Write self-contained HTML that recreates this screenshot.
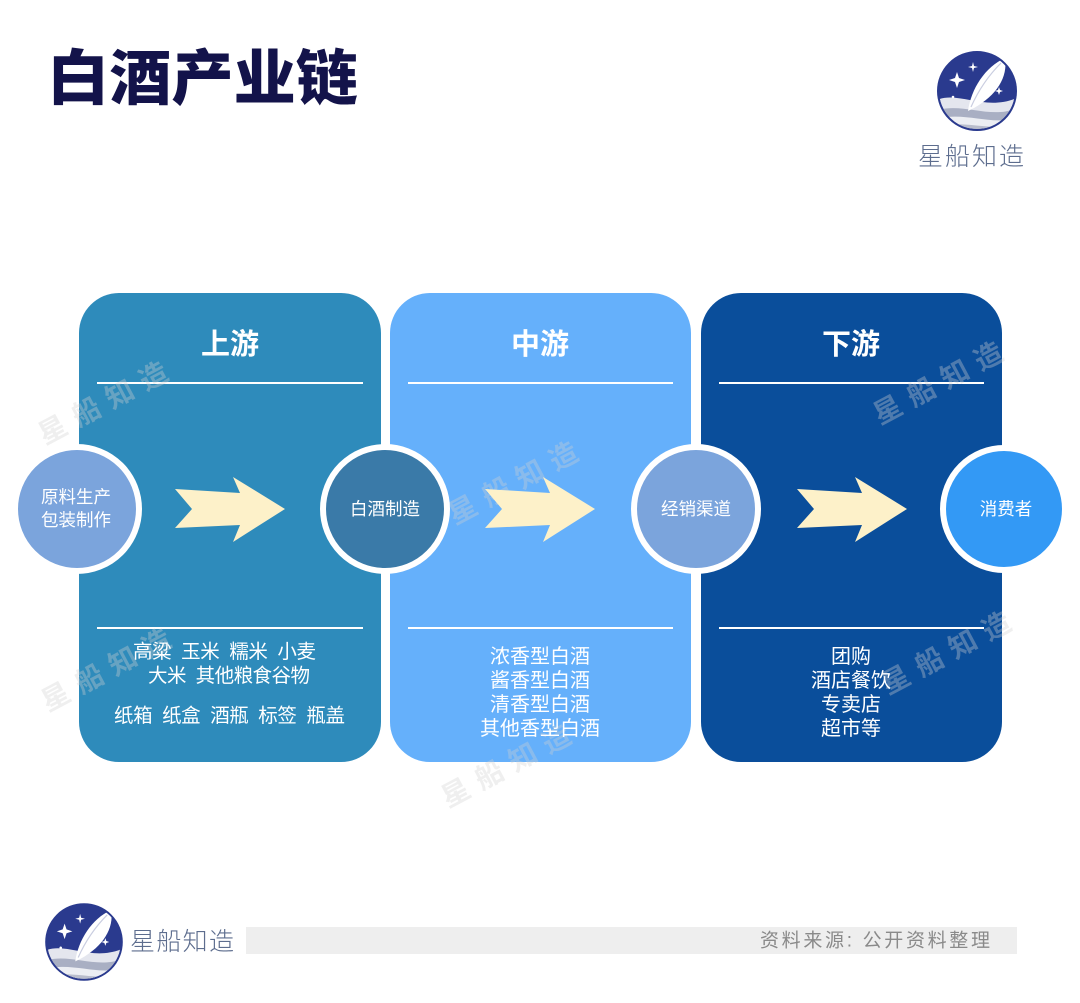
<!DOCTYPE html>
<html>
<head>
<meta charset="utf-8">
<style>
html,body{margin:0;padding:0;background:#fff;}
body{width:1080px;height:1003px;overflow:hidden;}
svg{display:block;}
text{font-family:"Liberation Sans","Noto Sans CJK SC",sans-serif;}
</style>
</head>
<body>
<svg width="1080" height="1003" viewBox="0 0 1080 1003" xmlns="http://www.w3.org/2000/svg">
  <defs>
    <clipPath id="lc"><circle cx="0" cy="0" r="38"/></clipPath>
    <g id="logo">
      <circle cx="0" cy="0" r="39" fill="#2a3a8e"/>
      <g clip-path="url(#lc)">
        <path d="M-42 10 C -20 -2, 8 22, 42 6 L42 42 L-42 42 Z" fill="#e4e6ee"/>
        <path d="M-42 20 C -15 10, 15 30, 42 16 L42 42 L-42 42Z" fill="#a9afc3"/>
        <path d="M-42 28 C -10 20, 15 36, 42 26 L42 42 L-42 42Z" fill="#eceef3"/>
        <path d="M-42 34 C -10 30, 15 40, 42 34 L42 42 L-42 42Z" fill="#b9bdcc"/>
      </g>
      <path d="M-9 20 C -6 -2, 8 -24, 28 -33 C 31 -14, 20 4, -3 17 Z" fill="#ffffff"/>
      <path d="M-6 16 C 2 -2, 12 -16, 24 -28" stroke="#c9cde0" stroke-width="1.2" fill="none"/>
      <path d="M-20 -19 L-18 -13 L-12 -11 L-18 -9 L-20 -3 L-22 -9 L-28 -11 L-22 -13 Z" fill="#fff"/>
      <path d="M-4 -29 L-3 -25 L1 -24 L-3 -23 L-4 -19 L-5 -23 L-9 -24 L-5 -25 Z" fill="#fff"/>
      <path d="M22 -4 L23 -1 L26 0 L23 1 L22 4 L21 1 L18 0 L21 -1 Z" fill="#fff"/>
      <circle cx="-24" cy="6" r="1.3" fill="#fff"/>
      <circle cx="0" cy="0" r="39" fill="none" stroke="#2a3a8e" stroke-width="2"/>
    </g>
  </defs>

  <!-- Title -->
  <text x="47" y="79" dominant-baseline="central" font-size="60" font-weight="900" fill="#13134a" textLength="311" lengthAdjust="spacingAndGlyphs">白酒产业链</text>

  <!-- top-right logo -->
  <use href="#logo" transform="translate(977,91)"/>
  <text x="918" y="157" dominant-baseline="central" font-size="25" font-weight="300" fill="#5d6d8e" textLength="106" lengthAdjust="spacing">星船知造</text>

  <!-- Panels -->
  <rect x="79" y="293" width="302" height="469" rx="40" ry="40" fill="#2e8bbb"/>
  <rect x="390" y="293" width="301" height="469" rx="40" ry="40" fill="#65b0fb"/>
  <rect x="701" y="293" width="301" height="469" rx="40" ry="40" fill="#0a4e9b"/>

  <!-- headers -->
  <text x="230" y="345" text-anchor="middle" dominant-baseline="central" font-size="29" font-weight="bold" fill="#fff">上游</text>
  <text x="540" y="345" text-anchor="middle" dominant-baseline="central" font-size="29" font-weight="bold" fill="#fff">中游</text>
  <text x="851" y="345" text-anchor="middle" dominant-baseline="central" font-size="29" font-weight="bold" fill="#fff">下游</text>

  <!-- divider lines -->
  <g stroke="#ffffff" stroke-width="2">
    <line x1="97" y1="383" x2="363" y2="383"/>
    <line x1="408" y1="383" x2="673" y2="383"/>
    <line x1="719" y1="383" x2="984" y2="383"/>
    <line x1="97" y1="628" x2="363" y2="628"/>
    <line x1="408" y1="628" x2="673" y2="628"/>
    <line x1="719" y1="628" x2="984" y2="628"/>
  </g>

  <!-- watermarks -->
  <g font-size="28" font-weight="bold" letter-spacing="10" fill="#d0d0d0" fill-opacity="0.35">
    <text x="45" y="445" transform="rotate(-28 45 445)">星船知造</text>
    <text x="48" y="712" transform="rotate(-28 48 712)">星船知造</text>
    <text x="455" y="525" transform="rotate(-28 455 525)">星船知造</text>
    <text x="448" y="808" transform="rotate(-28 448 808)">星船知造</text>
    <text x="880" y="425" transform="rotate(-28 880 425)">星船知造</text>
    <text x="888" y="695" transform="rotate(-28 888 695)">星船知造</text>
  </g>

  <!-- arrows -->
  <g fill="#fdf1c9">
    <path d="M175 489 L240 493 L233 477 L285 509 L233 542 L240 525 L175 528 L192 509 Z"/>
    <path transform="translate(310,0)" d="M175 489 L240 493 L233 477 L285 509 L233 542 L240 525 L175 528 L192 509 Z"/>
    <path transform="translate(622,0)" d="M175 489 L240 493 L233 477 L285 509 L233 542 L240 525 L175 528 L192 509 Z"/>
  </g>

  <!-- circles -->
  <circle cx="77" cy="509" r="62" fill="#7ba4dc" stroke="#ffffff" stroke-width="6"/>
  <circle cx="385" cy="509" r="62" fill="#3a7aa8" stroke="#ffffff" stroke-width="6"/>
  <circle cx="696" cy="509" r="62" fill="#7ba4dc" stroke="#ffffff" stroke-width="6"/>
  <circle cx="1004" cy="509" r="61" fill="#3399f5" stroke="#ffffff" stroke-width="6"/>

  <g font-size="17.5" fill="#ffffff" text-anchor="middle" dominant-baseline="central">
    <text x="76" y="497">原料生产</text>
    <text x="76" y="520">包装制作</text>
    <text x="385" y="509">白酒制造</text>
    <text x="696" y="509">经销渠道</text>
    <text x="1006" y="509">消费者</text>
  </g>

  <!-- panel body text -->
  <g font-size="19.5" fill="#ffffff" dominant-baseline="central">
    <text x="133" y="652" textLength="183" lengthAdjust="spacing" xml:space="preserve">高粱  玉米  糯米  小麦</text>
    <text x="148" y="676" textLength="162" lengthAdjust="spacing" xml:space="preserve">大米  其他粮食谷物</text>
    <text x="114" y="716" textLength="231" lengthAdjust="spacing" xml:space="preserve">纸箱  纸盒  酒瓶  标签  瓶盖</text>
  </g>
  <g font-size="20" fill="#ffffff" text-anchor="middle" dominant-baseline="central">
    <text x="540" y="657">浓香型白酒</text>
    <text x="540" y="681">酱香型白酒</text>
    <text x="540" y="705">清香型白酒</text>
    <text x="540" y="729">其他香型白酒</text>
    <text x="851" y="657">团购</text>
    <text x="851" y="681">酒店餐饮</text>
    <text x="851" y="705">专卖店</text>
    <text x="851" y="729">超市等</text>
  </g>

  <!-- footer -->
  <use href="#logo" transform="translate(84,942) scale(0.97)"/>
  <text x="130" y="942" dominant-baseline="central" font-size="25" font-weight="300" fill="#5d6d8e" textLength="104" lengthAdjust="spacing">星船知造</text>
  <rect x="246" y="927" width="771" height="27" fill="#eeeeee"/>
  <text x="760" y="941" dominant-baseline="central" font-size="19" fill="#8a8a8a" textLength="230" lengthAdjust="spacing" xml:space="preserve">资料来源: 公开资料整理</text>
</svg>
</body>
</html>
